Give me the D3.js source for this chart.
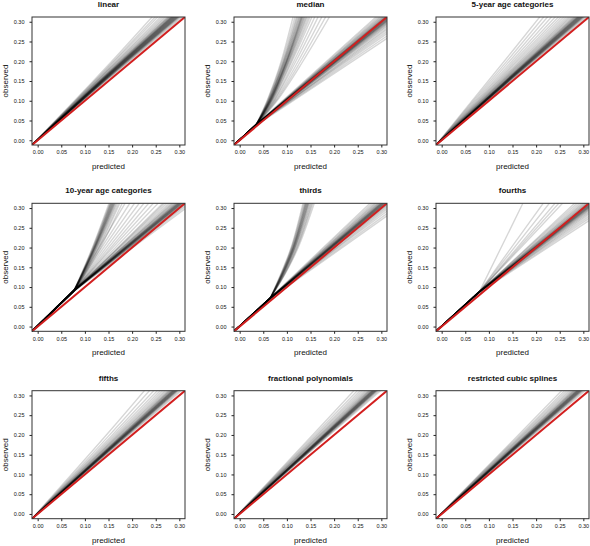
<!DOCTYPE html>
<html><head><meta charset="utf-8">
<script src="https://cdn.jsdelivr.net/npm/d3@7"></script>
<style>body{margin:0;background:#fff}svg{display:block}</style>
</head><body><svg id="c" width="590" height="546"></svg>
<script>
// ---------- data ----------
const panelTitles = ["linear","median","5-year age categories","10-year age categories","thirds","fourths","fifths","fractional polynomials","restricted cubic splines"];
const tickValues = [0, 0.05, 0.10, 0.15, 0.20, 0.25, 0.30];
const axisRange = [-0.012, 0.312];
const xLabel = "predicted";
const yLabel = "observed";
const lineStart = [-0.012, -0.012];

// smooth calibration lines: [observed at predicted 0.15, observed at predicted 0.312]
const midPred = 0.15;
const linearLines = [[0.155,0.316],[0.157,0.320],[0.158,0.323],[0.159,0.325],[0.160,0.326],[0.1605,0.327],[0.161,0.328],[0.1615,0.329],[0.162,0.330],[0.1625,0.331],[0.163,0.332],[0.1635,0.333],[0.164,0.334],[0.1645,0.335],[0.165,0.336],[0.1655,0.337],[0.166,0.338],[0.1665,0.339],[0.167,0.340],[0.1675,0.341],[0.168,0.342],[0.1685,0.343],[0.169,0.344],[0.170,0.346],[0.171,0.348],[0.172,0.350],[0.173,0.352],[0.175,0.356],[0.177,0.361],[0.179,0.367],[0.181,0.374],[0.184,0.383],[0.187,0.393],[0.191,0.405]];
const fiveYearLines = [[0.154,0.315],[0.156,0.319],[0.157,0.322],[0.158,0.324],[0.1585,0.325],[0.159,0.326],[0.1595,0.327],[0.160,0.328],[0.1605,0.329],[0.161,0.330],[0.1615,0.331],[0.162,0.332],[0.1625,0.333],[0.163,0.334],[0.1635,0.335],[0.164,0.336],[0.1645,0.337],[0.165,0.338],[0.1655,0.339],[0.166,0.341],[0.167,0.343],[0.168,0.345],[0.169,0.347],[0.171,0.350],[0.173,0.354],[0.175,0.358],[0.177,0.363],[0.180,0.369],[0.183,0.376],[0.187,0.384],[0.191,0.393],[0.196,0.404],[0.202,0.418],[0.209,0.434],[0.217,0.450],[0.226,0.468]];
const fifthsLines = [[0.155,0.320],[0.157,0.324],[0.158,0.327],[0.159,0.329],[0.1595,0.330],[0.160,0.331],[0.1605,0.332],[0.161,0.333],[0.1615,0.334],[0.162,0.335],[0.1625,0.336],[0.163,0.337],[0.1635,0.338],[0.164,0.339],[0.1645,0.340],[0.165,0.341],[0.1655,0.342],[0.166,0.344],[0.167,0.346],[0.168,0.348],[0.169,0.350],[0.171,0.353],[0.173,0.357],[0.175,0.362],[0.178,0.368],[0.181,0.375],[0.185,0.384],[0.190,0.396],[0.197,0.413],[0.206,0.434]];
const fracPolyLines = [[0.158,0.326],[0.160,0.330],[0.161,0.333],[0.162,0.335],[0.1625,0.336],[0.163,0.337],[0.1635,0.338],[0.164,0.339],[0.1645,0.340],[0.165,0.341],[0.1655,0.342],[0.166,0.343],[0.1665,0.344],[0.167,0.345],[0.1675,0.346],[0.168,0.347],[0.1685,0.348],[0.169,0.350],[0.170,0.352],[0.171,0.354],[0.173,0.356],[0.175,0.359],[0.177,0.363],[0.179,0.368],[0.182,0.374],[0.185,0.381],[0.189,0.390],[0.194,0.402]];
const splineLines = [[0.155,0.320],[0.157,0.324],[0.158,0.326],[0.159,0.328],[0.1595,0.329],[0.160,0.330],[0.1605,0.331],[0.161,0.332],[0.1615,0.333],[0.162,0.334],[0.1625,0.335],[0.163,0.336],[0.1635,0.337],[0.164,0.338],[0.1645,0.339],[0.165,0.340],[0.1655,0.341],[0.166,0.343],[0.167,0.345],[0.168,0.347],[0.169,0.349],[0.171,0.352],[0.173,0.356],[0.175,0.361],[0.178,0.367],[0.181,0.374],[0.185,0.383]];

// median: knots, steep bundle (predicted at observed 0.10, 0.20, 0.312), shallow bundle ends
const medianKnots = [[0.034,0.037],[0.035,0.039],[0.036,0.041],[0.035,0.040]];
const medianSteepLevels = [0.10, 0.20, 0.312];
const medianSteep = [[0.058,0.088,0.113],[0.059,0.090,0.117],[0.060,0.092,0.120],[0.061,0.093,0.122],[0.061,0.094,0.124],[0.062,0.095,0.126],[0.062,0.096,0.127],[0.063,0.097,0.129],[0.063,0.098,0.130],[0.064,0.099,0.131],[0.064,0.099,0.132],[0.064,0.100,0.133],[0.065,0.100,0.134],[0.065,0.101,0.136],[0.066,0.102,0.137],[0.066,0.103,0.139],[0.067,0.104,0.141],[0.067,0.105,0.143],[0.068,0.107,0.146],[0.069,0.109,0.149],[0.070,0.111,0.153],[0.072,0.115,0.159],[0.073,0.119,0.166],[0.075,0.124,0.174],[0.077,0.129,0.182],[0.079,0.134,0.190]];
const medianShallowEnd = [0.258,0.264,0.270,0.275,0.280,0.284,0.288,0.291,0.294,0.296,0.298,0.300,0.301,0.302,0.303,0.304,0.305,0.306,0.307,0.308,0.309,0.310,0.311,0.312,0.313,0.314,0.315,0.316,0.318,0.320,0.322,0.325,0.328,0.332,0.337];

// 10-year categories
const tenYearKnots = [[0.076,0.089],[0.078,0.092],[0.079,0.095],[0.077,0.091]];
const tenYearSteepLevels = [0.20, 0.312];
const tenYearSteep = [[0.116,0.151],[0.117,0.153],[0.118,0.154],[0.119,0.155],[0.119,0.156],[0.120,0.157],[0.120,0.158],[0.121,0.159],[0.121,0.160],[0.122,0.161],[0.122,0.162],[0.123,0.163],[0.124,0.164],[0.125,0.166],[0.126,0.168],[0.128,0.171],[0.130,0.174],[0.133,0.179]];
const tenYearMidTop = [0.185,0.195,0.205,0.215,0.225,0.235,0.245,0.255,0.265];
const tenYearMainEnd = [0.298,0.303,0.307,0.310,0.312,0.314,0.316,0.317,0.318,0.319,0.320,0.321,0.322,0.323,0.324,0.325,0.326,0.327,0.328,0.330,0.332,0.334,0.337,0.340,0.344,0.349,0.355,0.362];

// thirds
const thirdsKnots = [[0.064,0.070],[0.065,0.072],[0.066,0.074]];
const thirdsSteepLevels = [0.15, 0.20, 0.312];
const thirdsSteep = [[0.093,0.109,0.134],[0.094,0.110,0.136],[0.095,0.111,0.138],[0.095,0.112,0.139],[0.096,0.113,0.140],[0.096,0.113,0.141],[0.097,0.114,0.142],[0.097,0.114,0.143],[0.098,0.115,0.144],[0.098,0.116,0.145],[0.099,0.116,0.146],[0.099,0.117,0.147],[0.100,0.118,0.149],[0.101,0.119,0.151],[0.102,0.121,0.153],[0.103,0.122,0.155],[0.104,0.124,0.158]];
const thirdsMainEnd = [0.280,0.286,0.292,0.297,0.301,0.305,0.308,0.310,0.312,0.314,0.315,0.316,0.317,0.318,0.319,0.320,0.321,0.322,0.323,0.324,0.325,0.326,0.328,0.330,0.332,0.335,0.338,0.342,0.347,0.353];

// fourths
const fourthsKnots = [[0.079,0.086],[0.080,0.088],[0.081,0.090]];
const fourthsFaintTop = [0.172,0.215,0.228,0.240,0.248,0.256];
const fourthsMainEnd = [0.268,0.274,0.279,0.284,0.288,0.291,0.294,0.296,0.298,0.300,0.301,0.302,0.303,0.304,0.305,0.306,0.307,0.308,0.309,0.310,0.311,0.312,0.314,0.316,0.318,0.321,0.324,0.328,0.333,0.339,0.346];

// ---------- build line lists: {head: straight part, tail: smooth part} ----------
const edge = axisRange[1];
const pick = (knots, j) => knots[j % knots.length];
const smoothFan = rows => rows.map(r => ({head: null, tail: [lineStart, [midPred, r[0]], [edge, r[1]]]}));
const fromKnot = (knots, ends) => ends.map((e, j) => ({head: [lineStart, pick(knots, j)], tail: [pick(knots, j), [edge, e]]}));
const toTop = (knots, tops) => tops.map((t, j) => ({head: [lineStart, pick(knots, j)], tail: [pick(knots, j), [t, edge]]}));
const steep = (knots, levels, rows) => rows.map((r, j) => ({head: [lineStart, pick(knots, j)], tail: [pick(knots, j)].concat(r.map((x, i) => [x, levels[i]]))}));

const panelLines = [
  smoothFan(linearLines),
  steep(medianKnots, medianSteepLevels, medianSteep).concat(fromKnot(medianKnots, medianShallowEnd)),
  smoothFan(fiveYearLines),
  steep(tenYearKnots, tenYearSteepLevels, tenYearSteep).concat(toTop(tenYearKnots, tenYearMidTop), fromKnot(tenYearKnots, tenYearMainEnd)),
  steep(thirdsKnots, thirdsSteepLevels, thirdsSteep).concat(fromKnot(thirdsKnots, thirdsMainEnd)),
  toTop(fourthsKnots, fourthsFaintTop).concat(fromKnot(fourthsKnots, fourthsMainEnd)),
  smoothFan(fifthsLines),
  smoothFan(fracPolyLines),
  smoothFan(splineLines)
];

// ---------- draw ----------
const svg = d3.select("#c");
const font = "'Liberation Sans', Arial, Helvetica, sans-serif";
const colLeft = [32, 234, 436];
const rowTop = [17, 203.3, 390.7];
const W = 153, H = 128;

panelTitles.forEach((title, i) => {
  const ox = colLeft[i % 3], oy = rowTop[Math.floor(i / 3)];
  const g = svg.append("g").attr("transform", `translate(${ox},${oy})`);
  const x = d3.scaleLinear().domain(axisRange).range([0, W]);
  const y = d3.scaleLinear().domain(axisRange).range([H, 0]);

  g.append("clipPath").attr("id", "clip" + i)
    .append("rect").attr("width", W).attr("height", H);

  const straight = d3.line().x(d => x(d[0])).y(d => y(d[1]));
  const smooth = d3.line().x(d => x(d[0])).y(d => y(d[1])).curve(d3.curveMonotoneX);
  const lg = g.append("g").attr("clip-path", `url(#clip${i})`);
  lg.selectAll("path.cal").data(panelLines[i]).join("path")
    .attr("class", "cal")
    .attr("d", d => {
      const t = smooth(d.tail);
      if (!d.head) return t;
      return straight(d.head) + "L" + t.slice(1);
    })
    .attr("fill", "none")
    .attr("stroke", "#000")
    .attr("stroke-opacity", 0.16)
    .attr("stroke-linejoin", "round")
    .attr("stroke-width", 1.4);

  lg.append("path")
    .attr("d", straight([[axisRange[0], axisRange[0]], [axisRange[1], axisRange[1]]]))
    .attr("stroke", "#d21f1f").attr("stroke-width", 2).attr("fill", "none");

  g.append("rect").attr("width", W).attr("height", H)
    .attr("fill", "none").attr("stroke", "#333").attr("stroke-width", 1);

  const fmt = d3.format(".2f");
  const xa = g.append("g").attr("transform", `translate(0,${H})`)
    .call(d3.axisBottom(x).tickValues(tickValues).tickFormat(fmt).tickSize(2.5).tickPadding(3));
  const ya = g.append("g")
    .call(d3.axisLeft(y).tickValues(tickValues).tickFormat(fmt).tickSize(2.5).tickPadding(5));
  [xa, ya].forEach(a => {
    a.select(".domain").remove();
    a.selectAll("line").attr("stroke", "#222");
    a.selectAll("text").attr("font-family", font).attr("font-size", 5.5).attr("fill", "#111");
  });

  g.append("text").attr("x", W / 2).attr("y", -10).attr("text-anchor", "middle")
    .attr("font-family", font).attr("font-size", 8).attr("font-weight", "bold").attr("fill", "#111")
    .text(title);
  g.append("text").attr("x", W / 2).attr("y", H + 24).attr("text-anchor", "middle")
    .attr("font-family", font).attr("font-size", 8).attr("fill", "#111")
    .text(xLabel);
  g.append("text").attr("transform", `translate(${-24},${H / 2}) rotate(-90)`)
    .attr("text-anchor", "middle")
    .attr("font-family", font).attr("font-size", 8).attr("fill", "#111")
    .text(yLabel);
});
</script></body></html>
